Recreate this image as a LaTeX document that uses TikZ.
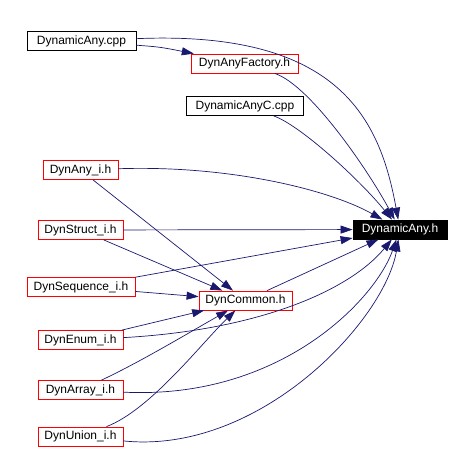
\documentclass[tikz,border=0pt]{standalone}
\usepackage{fontspec}
\setmainfont{Liberation Sans}
\usetikzlibrary{arrows.meta}

\definecolor{edgeblue}{RGB}{25,25,112}

\begin{document}
\begin{tikzpicture}[x=1pt,y=-1pt,
  file/.style={draw=black,line width=0.8pt,minimum height=19pt,inner xsep=5pt,
    inner ysep=0pt,font=\fontsize{12}{14}\selectfont},
  hdr/.style={file,draw=red},
  top/.style={file,fill=black,text=white},
  dep/.style={edgeblue,line width=0.7pt,-{Triangle[length=12pt,width=8pt]}}]

\useasboundingbox (0,0) rectangle (470,465);

\node[file,minimum width=109pt] (cpp)     at (81.5,41)   {DynamicAny.cpp};
\node[hdr,minimum width=107pt]  (fac)     at (244.5,63.5){DynAnyFactory.h};
\node[file,minimum width=117pt] (cppc)    at (245,106)   {DynamicAnyC.cpp};
\node[hdr,minimum width=75pt]   (anyi)    at (80.5,170)  {DynAny\_i.h};
\node[hdr,minimum width=85pt]   (structi) at (80.5,230)  {DynStruct\_i.h};
\node[hdr,minimum width=108pt]  (seqi)    at (81,287)    {DynSequence\_i.h};
\node[hdr,minimum width=93pt]   (com)     at (245.5,300.5){DynCommon.h};
\node[hdr,minimum width=85pt]   (enumi)   at (80.5,340)  {DynEnum\_i.h};
\node[hdr,minimum width=85pt]   (arrayi)  at (80.5,390)  {DynArray\_i.h};
\node[hdr,minimum width=85pt]   (unioni)  at (80.5,436.5){DynUnion\_i.h};
\node[top,minimum width=94pt]   (dah)     at (400,229.5) {DynamicAny.h};

\draw[dep] (cpp) .. controls (340,30) and (380,120) .. (dah);
\draw[dep] (cpp) .. controls (160,47) .. (fac);
\draw[dep] (fac) .. controls (310,85) and (368,170) .. (dah);
\draw[dep] (cppc) .. controls (300,125) and (360,180) .. (dah);
\draw[dep] (anyi) .. controls (230,165) and (330,190) .. (dah);
\draw[dep] (anyi) -- (com);
\draw[dep] (structi) -- (dah);
\draw[dep] (structi) -- (com);
\draw[dep] (seqi) -- (dah);
\draw[dep] (seqi) -- (com);
\draw[dep] (com) -- (dah);
\draw[dep] (enumi) -- (com);
\draw[dep] (enumi) .. controls (260,330) and (350,290) .. (dah);
\draw[dep] (arrayi) .. controls (140,362) and (185,335) .. (com);
\draw[dep] (arrayi) .. controls (280,400) and (375,300) .. (dah);
\draw[dep] (unioni) .. controls (150,410) and (200,345) .. (com);
\draw[dep] (unioni) .. controls (260,455) and (385,320) .. (dah);
\end{tikzpicture}
\end{document}
